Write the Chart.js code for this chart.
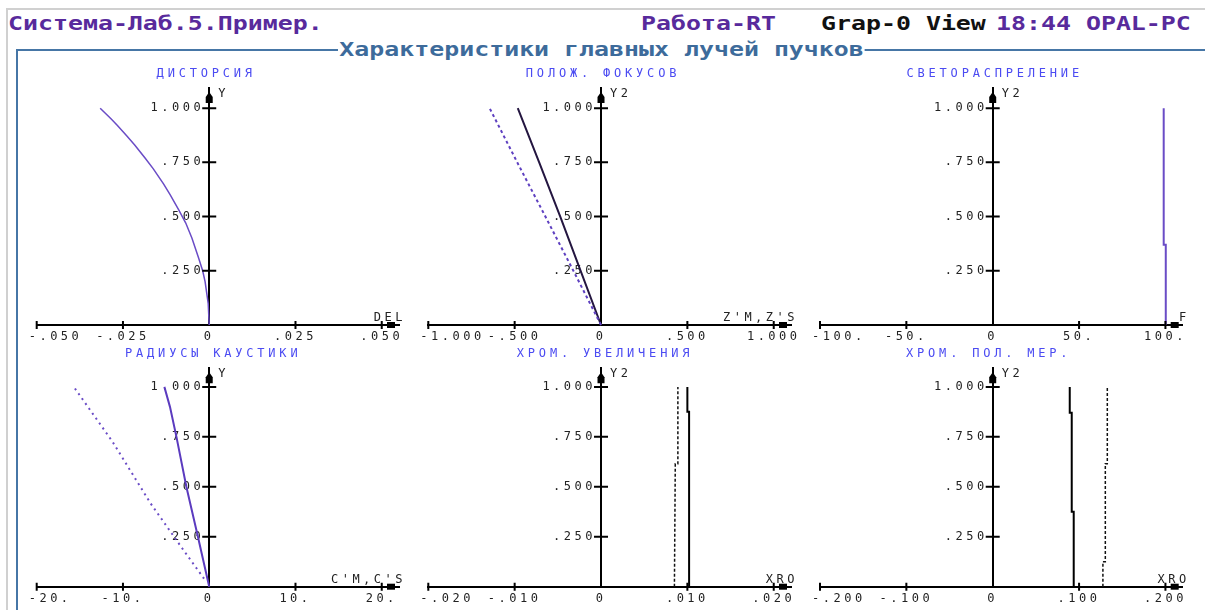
<!DOCTYPE html>
<html>
<head>
<meta charset="utf-8">
<script src="https://cdn.jsdelivr.net/npm/chart.js@4.4.1/dist/chart.umd.min.js"></script>
<style>
    html, body { margin: 0; padding: 0; background: #fff; }
    #page { position: relative; width: 1205px; height: 610px; overflow: hidden; }
    .hdr {
        position: absolute;
        font: bold 19px "DejaVu Sans Mono", monospace;
        line-height: 19px;
        white-space: pre;
        transform: scaleX(1.31);
        transform-origin: 0 0;
    }
    canvas { position: absolute; }
</style>
</head>
<body>
<div id="page">
    <div style="position:absolute;left:6px;top:8px;width:1205px;height:610px;border-top:2px solid #d0d0d0;border-left:2px solid #d0d0d0;"></div>
    <div style="position:absolute;left:16px;top:49px;width:1205px;height:610px;border-top:2px solid #4676a6;border-left:2px solid #4676a6;"></div>

    <div class="hdr" style="left:8px;top:14px;color:#582a9c;">Система-Лаб.5.Пример.</div>
    <div class="hdr" style="left:641px;top:14px;color:#582a9c;">Работа-RT</div>
    <div class="hdr" style="left:821px;top:14px;color:#111;">Grap-0 View</div>
    <div class="hdr" style="left:996px;top:14px;color:#582a9c;">18:44 OPAL-PC</div>
    <div class="hdr" style="left:338px;top:40px;color:#3d6b9b;background:#fff;padding:0 1px;">Характеристики главных лучей пучков</div>

    <canvas id="c1" width="395" height="290" style="left:20px;top:58px"></canvas>
    <canvas id="c2" width="395" height="290" style="left:415px;top:58px"></canvas>
    <canvas id="c3" width="395" height="290" style="left:810px;top:58px"></canvas>
    <canvas id="c4" width="395" height="272" style="left:20px;top:338px"></canvas>
    <canvas id="c5" width="395" height="272" style="left:415px;top:338px"></canvas>
    <canvas id="c6" width="395" height="272" style="left:810px;top:338px"></canvas>
</div>
<script>
// common Y axis (relative pupil height)
const yTicks = [0.25, 0.5, 0.75, 1.0];
const yTickLabels = ['.250', '.500', '.750', '1.000'];

// Дисторсия
const distTicks = [-0.05, -0.025, 0, 0.025, 0.05];
const distTickLabels = ['-.050', '-.025', '0', '.025', '.050'];
const distY = [0, 0.1, 0.2, 0.25, 0.31, 0.4, 0.47, 0.53, 0.6, 0.65, 0.72, 0.77, 0.83, 0.87, 0.92, 0.95, 1.0];
const distDel = [0, -0.0003, -0.0012, -0.0019, -0.0031, -0.005, -0.0068, -0.0088, -0.0113, -0.0132, -0.0162, -0.0186, -0.0216, -0.0238, -0.0266, -0.0284, -0.0316];

// Полож. фокусов
const focusTicks = [-1, -0.5, 0, 0.5, 1];
const focusTickLabels = ['-1.000', '-.500', '0', '.500', '1.000'];
const focusY = [0, 0.25, 0.5, 0.75, 1.0];
const focusZM = [0, -0.118, -0.236, -0.358, -0.482];
const focusZS = [0, -0.16, -0.322, -0.485, -0.645];

// Светораспреление
const lightTicks = [-100, -50, 0, 50, 100];
const lightTickLabels = ['-100.', '-50.', '0', '50.', '100.'];
const lightY = [0, 0.37, 0.37, 1.0];
const lightF = [100.2, 100.2, 99, 99];

// Радиусы каустики
const caustTicks = [-20, -10, 0, 10, 20];
const caustTickLabels = ['-20.', '-10.', '0', '10.', '20.'];
const caustMY = [0, 0.25, 0.5, 0.75, 0.9, 1.0];
const caustCM = [0, -1.31, -2.65, -3.8, -4.55, -5.2];
const caustSY = [0.04, 0.2, 0.417, 0.725, 1.0];
const caustCS = [-0.6, -3.26, -6.8, -11.2, -15.7];

// Хром. увеличения
const magTicks = [-0.02, -0.01, 0, 0.01, 0.02];
const magTickLabels = ['-.020', '-.010', '0', '.010', '.020'];
const magSolidY = [0, 0.875, 0.875, 1.0];
const magSolid = [0.0102, 0.0102, 0.01, 0.01];
const magDashY = [0, 0.615, 0.615, 1.0];
const magDash = [0.0085, 0.0086, 0.0089, 0.0089];

// Хром. пол. мер.
const merTicks = [-0.2, -0.1, 0, 0.1, 0.2];
const merTickLabels = ['-.200', '-.100', '0', '.100', '.200'];
const merSolidY = [0, 0.375, 0.375, 0.87, 0.87, 1.0];
const merSolid = [0.0938, 0.0938, 0.0915, 0.0915, 0.0892, 0.0892];
const merDashY = [0, 0.125, 0.125, 0.615, 0.615, 1.0];
const merDash = [0.1276, 0.1276, 0.1304, 0.1304, 0.1327, 0.1327];

const LABEL_FONT = { family: '"DejaVu Sans Mono", monospace', size: 12 };

function points(xs, ys) {
    return xs.map((v, i) => ({ x: v, y: ys[i] }));
}

function line(xs, ys, color, width, dash) {
    return {
        data: points(xs, ys),
        showLine: true,
        borderColor: color,
        borderWidth: width,
        borderDash: dash || [],
        pointRadius: 0,
        tension: 0,
        clip: false,
    };
}

// no layout space for the axes, chart area is set by the padding only
function noFit(scale) {
    if (scale.isHorizontal()) {
        scale.height = 0;
    } else {
        scale.width = 0;
    }
    scale.paddingLeft = 0;
    scale.paddingRight = 0;
    scale.paddingTop = 0;
    scale.paddingBottom = 0;
}

const axisDecor = {
    id: 'axisDecor',
    beforeDraw(chart) {
        chart.ctx.letterSpacing = '3.5px';

        // y labels sit left of the centred axis, first x label hangs to the right
        const yItems = chart.scales.y.getLabelItems();
        const xItems = chart.scales.x.getLabelItems();
        if (!yItems.$moved) {
            yItems.forEach(it => { it.options.translation[0] -= 5; });
            yItems.$moved = true;
        }
        if (!xItems.$moved && xItems.length) {
            xItems[0].options.textAlign = 'left';
            xItems[0].options.translation[0] -= 8;
            xItems.$moved = true;
        }
    },
    afterDraw(chart, args, opts) {
        const { ctx, chartArea: a, scales: { x, y } } = chart;
        const x0 = x.getPixelForValue(0);
        const y0 = y.getPixelForValue(0);

        ctx.save();
        ctx.strokeStyle = '#000';
        ctx.lineWidth = 2;
        ctx.beginPath();
        x.ticks.forEach(t => {
            if (t.value === 0) return;
            const px = x.getPixelForValue(t.value);
            ctx.moveTo(px, y0 - 4);
            ctx.lineTo(px, y0 + 4);
        });
        y.ticks.forEach(t => {
            const py = y.getPixelForValue(t.value);
            ctx.moveTo(x0 - 7, py);
            ctx.lineTo(x0 + 7, py);
        });
        ctx.stroke();

        // arrow heads
        ctx.fillStyle = '#000';
        ctx.beginPath();
        ctx.moveTo(x0, a.top + 4);
        ctx.lineTo(x0 + 3.5, a.top + 9);
        ctx.lineTo(x0 + 3.5, a.top + 15);
        ctx.lineTo(x0 - 3.5, a.top + 15);
        ctx.lineTo(x0 - 3.5, a.top + 9);
        ctx.closePath();
        ctx.fill();
        ctx.fillRect(a.right - 12, y0 - 3, 8, 6);

        // titles and axis names
        ctx.font = '12px "DejaVu Sans Mono", monospace';
        ctx.letterSpacing = '3.8px';
        ctx.fillStyle = '#4b4bf2';
        ctx.textAlign = 'center';
        ctx.textBaseline = 'middle';
        ctx.fillText(opts.title, x0 + 2 + (opts.titleShift || 0), a.top - 14);

        ctx.letterSpacing = '3.5px';
        ctx.fillStyle = '#222';
        ctx.textAlign = 'left';
        ctx.fillText(opts.yName, x0 + 9, a.top + 6);
        ctx.textAlign = 'right';
        ctx.textBaseline = 'alphabetic';
        ctx.fillText(opts.xName, a.right + 7, y0 - 4);
        ctx.restore();
    },
};

function renderPanel(id, cfg, padding) {
    const span = cfg.ticks[cfg.ticks.length - 1];

    new Chart(document.getElementById(id), {
        type: 'scatter',
        data: { datasets: cfg.datasets },
        options: {
            responsive: false,
            animation: false,
            layout: { padding: padding },
            plugins: {
                legend: { display: false },
                tooltip: { enabled: false },
                axisDecor: { title: cfg.title, titleShift: cfg.titleShift, xName: cfg.xName, yName: cfg.yName },
            },
            scales: {
                x: {
                    type: 'linear',
                    min: -span,
                    max: span * 1.1,
                    position: { y: 0 },
                    afterFit: noFit,
                    afterBuildTicks: function (scale) {
                        scale.ticks = cfg.ticks.map(v => ({ value: v }));
                    },
                    grid: { display: false },
                    border: { display: true, color: '#000', width: 2 },
                    ticks: {
                        autoSkip: false,
                        maxRotation: 0,
                        padding: -3,
                        color: '#222',
                        font: LABEL_FONT,
                        callback: function (value, index) { return cfg.labels[index]; },
                    },
                },
                y: {
                    type: 'linear',
                    min: 0,
                    max: 1.093,
                    position: { x: 0 },
                    afterFit: noFit,
                    afterBuildTicks: function (scale) {
                        scale.ticks = yTicks.map(v => ({ value: v }));
                    },
                    grid: { display: false },
                    border: { display: true, color: '#000', width: 2 },
                    ticks: {
                        autoSkip: false,
                        color: '#222',
                        font: LABEL_FONT,
                        callback: function (value, index) { return yTickLabels[index]; },
                    },
                },
            },
        },
        plugins: [axisDecor],
    });
}

const PURPLE = '#6a4cc6';
const rowTop = { top: 30, bottom: 23 };
const rowBottom = { top: 30.3, bottom: 23.3 };
const col1 = { left: 16.7, right: 16 };
const col2 = { left: 13.3, right: 19 };
const col3 = { left: 10, right: 22.3 };

renderPanel('c1', {
    title: 'ДИСТОРСИЯ', titleShift: -5, xName: 'DEL', yName: 'Y',
    ticks: distTicks, labels: distTickLabels,
    datasets: [line(distDel, distY, PURPLE, 1.5)],
}, Object.assign({}, rowTop, col1));

renderPanel('c2', {
    title: 'ПОЛОЖ. ФОКУСОВ', xName: "Z'M,Z'S", yName: 'Y2',
    ticks: focusTicks, labels: focusTickLabels,
    datasets: [
        line(focusZS, focusY, '#5e40c0', 2, [3, 3]),
        line(focusZM, focusY, '#241640', 2),
    ],
}, Object.assign({}, rowTop, col2));

renderPanel('c3', {
    title: 'СВЕТОРАСПРЕЛЕНИЕ', xName: 'F', yName: 'Y2',
    ticks: lightTicks, labels: lightTickLabels,
    datasets: [line(lightF, lightY, PURPLE, 2)],
}, Object.assign({}, rowTop, col3));

renderPanel('c4', {
    title: 'РАДИУСЫ КАУСТИКИ', titleShift: 2, xName: "C'M,C'S", yName: 'Y',
    ticks: caustTicks, labels: caustTickLabels,
    datasets: [
        line(caustCS, caustSY, PURPLE, 2, [2, 4]),
        line(caustCM, caustMY, '#5b3bbf', 2),
    ],
}, Object.assign({}, rowBottom, col1));

renderPanel('c5', {
    title: 'ХРОМ. УВЕЛИЧЕНИЯ', titleShift: 2, xName: 'XRO', yName: 'Y2',
    ticks: magTicks, labels: magTickLabels,
    datasets: [
        line(magDash, magDashY, '#111', 1.5, [3, 2]),
        line(magSolid, magSolidY, '#000', 2),
    ],
}, Object.assign({}, rowBottom, col2));

renderPanel('c6', {
    title: 'ХРОМ. ПОЛ. МЕР.', titleShift: -6, xName: 'XRO', yName: 'Y2',
    ticks: merTicks, labels: merTickLabels,
    datasets: [
        line(merDash, merDashY, '#111', 1.5, [3, 2]),
        line(merSolid, merSolidY, '#000', 2),
    ],
}, Object.assign({}, rowBottom, col3));
</script>
</body>
</html>
